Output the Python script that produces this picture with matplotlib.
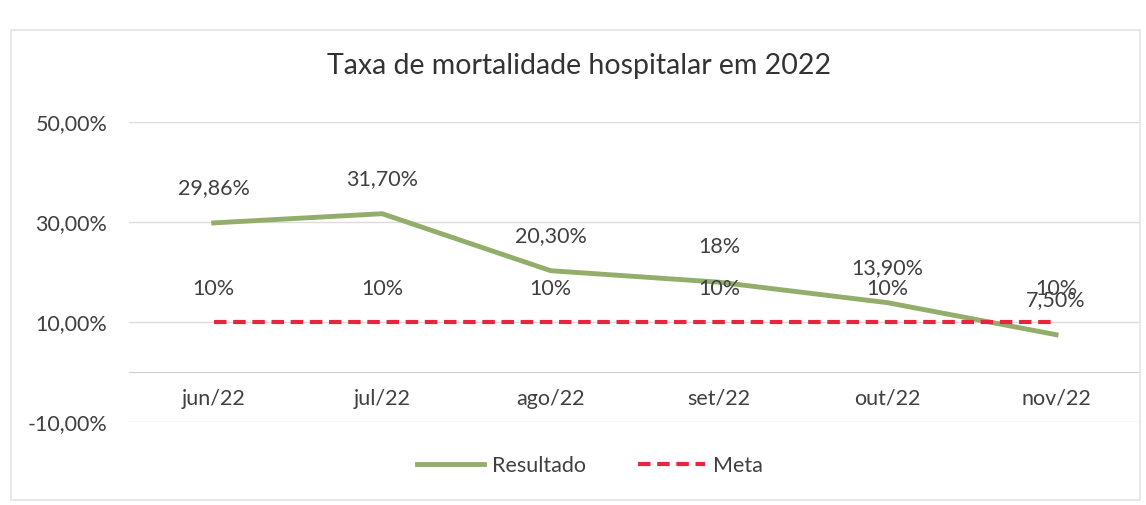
import matplotlib.pyplot as plt
from matplotlib.patches import Rectangle

# chart data
meses = ["jun/22", "jul/22", "ago/22", "set/22", "out/22", "nov/22"]
resultado = [29.86, 31.70, 20.30, 18.0, 13.90, 7.50]
resultado_labels = ["29,86%", "31,70%", "20,30%", "18%", "13,90%", "7,50%"]
meta = [10, 10, 10, 10, 10, 10]
meta_labels = ["10%", "10%", "10%", "10%", "10%", "10%"]
yticks = [-10, 10, 30, 50]
ytick_labels = ["-10,00%", "10,00%", "30,00%", "50,00%"]

plt.rcParams['font.family'] = ['Lato', 'DejaVu Sans']
txt = "#404040"
fs = 15.5

fig = plt.figure(figsize=(11.46, 5.05), dpi=100)
fig.patches.append(Rectangle((0.01, 0.01), 0.985, 0.93, transform=fig.transFigure,
                             fill=False, edgecolor="#e4e4e4", lw=1.2))
ax = fig.add_axes([0.113, 0.164, 0.882, 0.594])
for s in ["top", "right", "left"]:
    ax.spines[s].set_visible(False)
ax.spines["bottom"].set_position(("data", 0))
ax.spines["bottom"].set_color("#d0d0d0")

x = list(range(len(meses)))
ax.plot(x, resultado, color="#93ad6b", lw=3.5, label="Resultado", zorder=3)
ax.plot(x, meta, color="#e8253e", lw=3, ls=(0, (3, 1.6)), label="Meta", zorder=4)

for i in x:
    ax.annotate(resultado_labels[i], (i, resultado[i]), xytext=(0, 25),
                textcoords="offset points", ha="center", va="center",
                fontsize=fs, color=txt)
    ax.annotate(meta_labels[i], (i, meta[i]), xytext=(0, 24),
                textcoords="offset points", ha="center", va="center",
                fontsize=fs, color=txt)

ax.set_xlim(-0.5, 5.5)
ax.set_ylim(-10, 50)
ax.set_yticks(yticks)
ax.set_yticklabels(ytick_labels)
ax.set_xticks(x)
ax.set_xticklabels(meses)
ax.tick_params(axis="y", length=0, pad=16, labelsize=fs, labelcolor=txt)
ax.tick_params(axis="x", length=0, pad=12, labelsize=fs, labelcolor=txt)
ax.grid(axis="y", color="#dcdcdc", lw=1)
ax.set_axisbelow(True)

fig.text(0.505, 0.87, "Taxa de mortalidade hospitalar em 2022", ha="center",
         va="center", fontsize=20.5, color="#333333")

fig.legend(loc="center", bbox_to_anchor=(0.515, 0.078), ncol=2, frameon=False,
           fontsize=fs, labelcolor=txt, handlelength=3.1, handletextpad=0.4,
           columnspacing=2.4)

fig.savefig("out.png", dpi=100)
